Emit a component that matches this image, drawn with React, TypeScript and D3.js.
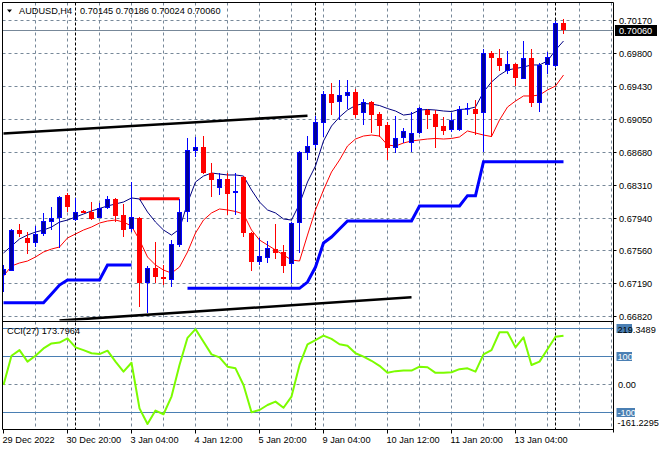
import React from "react";
import * as d3 from "d3";

// ---------- data (AUDUSD H4) ----------
const openP = [
  0.67291, 0.6734, 0.67801, 0.67707, 0.67651, 0.67756, 0.67895, 0.67933, 0.68198, 0.67914,
  0.68017, 0.68009, 0.6794, 0.68047, 0.68152, 0.67971, 0.67809, 0.6794, 0.67204, 0.67374,
  0.67273, 0.67235, 0.67631, 0.68009, 0.68699, 0.68744, 0.68449, 0.68273, 0.68378, 0.68217,
  0.68404, 0.6777, 0.67443, 0.67481, 0.67583, 0.67556, 0.67413, 0.67877, 0.68676, 0.68763,
  0.69015, 0.69341, 0.69254, 0.69318, 0.69363, 0.69128, 0.69247, 0.6911, 0.6899, 0.68726,
  0.68839, 0.68789, 0.68902, 0.69159, 0.69114, 0.68978, 0.68933, 0.68933, 0.69167, 0.69171,
  0.69122, 0.69808, 0.69744, 0.69604, 0.69677, 0.69514, 0.69748, 0.69242, 0.69669, 0.69657,
  0.70145,
];
const highP = [
  0.67405, 0.67812, 0.67869, 0.67782, 0.67846, 0.67997, 0.68065, 0.68186, 0.68217, 0.6816,
  0.68028, 0.68122, 0.68104, 0.68186, 0.6816, 0.68096, 0.68341, 0.67948, 0.67394, 0.67669,
  0.67405, 0.67688, 0.68152, 0.68846, 0.68857, 0.68865, 0.68555, 0.68449, 0.68443, 0.68443,
  0.68412, 0.67778, 0.67707, 0.6768, 0.67869, 0.67631, 0.67891, 0.68696, 0.68865, 0.69092,
  0.69378, 0.69468, 0.69499, 0.69499, 0.69394, 0.69281, 0.69265, 0.6914, 0.69027, 0.69092,
  0.68959, 0.6914, 0.69193, 0.69167, 0.69159, 0.69084, 0.69122, 0.69205, 0.69235, 0.69273,
  0.69846, 0.69827, 0.69846, 0.69827, 0.69688, 0.69944, 0.69846, 0.69688, 0.6982, 0.7017,
  0.70186,
];
const lowP = [
  0.67099, 0.67337, 0.67719, 0.6753, 0.67612, 0.67733, 0.67801, 0.67594, 0.68009, 0.67905,
  0.67988, 0.67914, 0.67933, 0.68036, 0.67895, 0.67719, 0.67782, 0.66927, 0.66865, 0.67204,
  0.67178, 0.67159, 0.67605, 0.67895, 0.68627, 0.68435, 0.68178, 0.68198, 0.67971, 0.67971,
  0.67719, 0.6734, 0.67405, 0.67431, 0.6747, 0.67311, 0.67204, 0.67538, 0.68593, 0.68726,
  0.68857, 0.69102, 0.69046, 0.69167, 0.69065, 0.6899, 0.68902, 0.68857, 0.68593, 0.6867,
  0.68783, 0.68688, 0.68888, 0.68941, 0.68726, 0.68876, 0.68914, 0.68922, 0.69102, 0.68876,
  0.68688, 0.68857, 0.69604, 0.69566, 0.69431, 0.6951, 0.6919, 0.6914, 0.69566, 0.6965,
  0.70024,
];
const closeP = [
  0.67359, 0.67801, 0.67756, 0.67651, 0.67756, 0.67903, 0.67933, 0.68178, 0.68065, 0.68009,
  0.67997, 0.67926, 0.68047, 0.68152, 0.67963, 0.67801, 0.67944, 0.67204, 0.67367, 0.67273,
  0.6725, 0.67639, 0.68002, 0.68707, 0.68744, 0.68443, 0.68367, 0.68378, 0.68209, 0.68243,
  0.67764, 0.67443, 0.67507, 0.67594, 0.67544, 0.67394, 0.67877, 0.68684, 0.68756, 0.69027,
  0.69341, 0.69242, 0.69329, 0.69363, 0.69102, 0.69247, 0.69102, 0.68978, 0.68726, 0.68846,
  0.68922, 0.68902, 0.69178, 0.69102, 0.6897, 0.68925, 0.69046, 0.69167, 0.69185, 0.69114,
  0.69808, 0.69744, 0.69657, 0.6968, 0.69518, 0.69748, 0.69242, 0.69665, 0.69755, 0.70145,
  0.7006,
];
const maFast = [
  0.67541, 0.6762, 0.67699, 0.67744, 0.67778, 0.67801, 0.67835, 0.67891, 0.67914, 0.67948,
  0.67982, 0.68017, 0.68045, 0.68073, 0.68096, 0.68118, 0.68164, 0.68152, 0.68005, 0.67891,
  0.67801, 0.67744, 0.67812, 0.68107, 0.68345, 0.68412, 0.68446, 0.68435, 0.68424, 0.68424,
  0.68412, 0.68254, 0.68118, 0.68028, 0.67994, 0.67926, 0.67914, 0.68096, 0.68345, 0.68526,
  0.68809, 0.68978, 0.6908, 0.69159, 0.6921, 0.69233, 0.69227, 0.6921, 0.69176, 0.69148,
  0.69102, 0.69114, 0.69159, 0.69165, 0.69159, 0.69148, 0.69142, 0.69165, 0.69171, 0.69193,
  0.69363, 0.69476, 0.69555, 0.69612, 0.69629, 0.69646, 0.69669, 0.69669, 0.69714, 0.69838,
  0.6994,
];
const maSlow = [
  0.6728, 0.67394, 0.67428, 0.6745, 0.67496, 0.67552, 0.67586, 0.67609, 0.67711, 0.67756,
  0.67801, 0.67835, 0.6788, 0.67903, 0.67914, 0.67891, 0.67846, 0.67688, 0.67496, 0.67405,
  0.67348, 0.67314, 0.67382, 0.67552, 0.67767, 0.67914, 0.67994, 0.68039, 0.68028, 0.68011,
  0.67982, 0.67801, 0.67688, 0.67631, 0.67575, 0.67518, 0.67462, 0.6745, 0.67744, 0.68028,
  0.68254, 0.68458, 0.68593, 0.68752, 0.68831, 0.68865, 0.68876, 0.68865, 0.68763, 0.68752,
  0.68786, 0.68809, 0.6882, 0.68831, 0.68837, 0.68831, 0.68837, 0.68854, 0.68922, 0.68899,
  0.68876, 0.68859, 0.69046, 0.69193, 0.69261, 0.69318, 0.69318, 0.69329, 0.69386, 0.69431,
  0.69555,
];
const stopUp: (number | null)[] = [
  0.66978, 0.66978, 0.66978, 0.66978, 0.66978, 0.66978, 0.67076, 0.67178, 0.67235, 0.67235,
  0.67235, 0.67235, 0.67235, 0.67405, 0.67405, 0.67405, 0.67405, null, null, null,
  null, null, null, 0.67141, 0.67141, 0.67141, 0.67141, 0.67141, 0.67141, 0.67141,
  0.67141, 0.67141, 0.67141, 0.67141, 0.67141, 0.67141, 0.67141, 0.67141, 0.67212, 0.67382,
  0.67654, 0.67722, 0.67812, 0.67903, 0.67903, 0.67903, 0.67903, 0.67903, 0.67903, 0.67903,
  0.67903, 0.67903, 0.68073, 0.68073, 0.68073, 0.68073, 0.68073, 0.68073, 0.6819, 0.6819,
  0.68574, 0.68574, 0.68574, 0.68574, 0.68574, 0.68574, 0.68574, 0.68574, 0.68574, 0.68574,
  0.68574,
];
const stopDown: (number | null)[] = [
  null, null, null, null, null, null, null, null, null, null,
  null, null, null, null, null, null, null, 0.68155, 0.68155, 0.68155,
  0.68155, 0.68155, 0.68155, null, null, null, null, null, null, null,
  null, null, null, null, null, null, null, null, null, null,
  null, null, null, null, null, null, null, null, null, null,
  null, null, null, null, null, null, null, null, null, null,
  null, null, null, null, null, null, null, null, null, null,
  null,
];
const cciVals = [
  -2.5, 102, 122, 81, 102, 128, 146, 149, 164, 132,
  122, 111, 108, 120, 81, 45, 77, -86, -142, -94,
  -107, -44, 69, 166, 197, 152, 107, 96, 63, 57,
  -2.5, -100, -92, -74, -62, -84, -44, 69, 143, 158,
  174, 162, 143, 138, 111, 99, 84, 66, 41, 47,
  49, 49, 63, 61, 41, 41, 43, 54, 57, 45,
  107, 122, 186, 186, 132, 168, 69, 81, 125, 170,
  173.7964,
];
const trendStartBar = [0, 7];
const trendStartPrice = [0.68893, 0.66776];
const trendEndBar = [38, 51];
const trendEndPrice = [0.69095, 0.6704];
const separatorBars = [9, 39, 69];
const timeLabelBars = [0, 8, 16, 24, 32, 40, 48, 56, 64];
const timeLabels = [
  "29 Dec 2022", "30 Dec 20:00", "3 Jan 04:00", "4 Jan 12:00", "5 Jan 20:00",
  "9 Jan 04:00", "10 Jan 12:00", "11 Jan 20:00", "13 Jan 04:00",
];
const priceTickLabels = [
  "0.70170", "0.69800", "0.69430", "0.69050", "0.68680",
  "0.68310", "0.67940", "0.67560", "0.67190", "0.66820",
];
const cciLevels = [200, 100, -100];
const cciMax = 219.3489;
const cciMin = -161.2295;
const lastPrice = 0.7006;
const symbol = "AUDUSD,H4";
const ohlcText = "0.70145 0.70186 0.70024 0.70060";
const cciName = "CCI(27) 173.7964";

// ---------- component ----------
export default function App() {
  const L = 2.5, R = 613.5, T = 2.5, MB = 320.5, CT = 321.5, CB = 429.5;
  const font = "'Liberation Sans', Arial, sans-serif";
  const fs = 9.2;
  const blue = "#0000ff", navyFill = "#000099", red = "#ff0000";
  const gridC = "#778899";
  const levelC = "#4a7fb3";

  const n = openP.length;
  const x = d3.scaleLinear().domain([0, n - 1]).range([3.5, 3.5 + 8 * (n - 1)]);
  const yTopVal = +priceTickLabels[0];
  const yBotVal = +priceTickLabels[priceTickLabels.length - 1];
  const y = d3.scaleLinear().domain([yBotVal, yTopVal]).range([316.7, 20.7]);
  const yc = d3.scaleLinear().domain([cciMin, cciMax]).range([429.4, 322.9]);
  const snap = (v: number) => Math.floor(v) + 0.5;

  const tickPrices = priceTickLabels.map(
    (_, k) => yTopVal - (k * (yTopVal - yBotVal)) / (priceTickLabels.length - 1)
  );
  const vGrid: number[] = [];
  for (let b = 4; x(b) < R - 1; b += 4) vGrid.push(b);

  const lineP = d3
    .line<number | null>()
    .defined((d) => d != null)
    .x((_, i) => x(i))
    .y((d) => y(d as number));
  const lineC = d3
    .line<number>()
    .x((_, i) => x(i))
    .y((d) => yc(d));

  return (
    <div style={{ position: "fixed", left: 0, top: 0, width: 660, height: 450, background: "#fff" }}>
      <svg width={660} height={450} style={{ display: "block" }} fontFamily={font} fontSize={fs}>
        <defs>
          <clipPath id="mainClip">
            <rect x={L + 0.5} y={T + 0.5} width={R - L - 1} height={MB - T - 0.5} />
          </clipPath>
          <clipPath id="cciClip">
            <rect x={L + 0.5} y={CT + 0.5} width={R - L - 1} height={CB - CT - 1} />
          </clipPath>
        </defs>
        <rect x={0} y={0} width={660} height={450} fill="#fff" />

        {/* main grid */}
        <g stroke={gridC} strokeWidth={1} strokeDasharray="3,3" fill="none">
          {tickPrices.map((p, k) => (
            <line key={"h" + k} x1={L} x2={R} y1={snap(y(p))} y2={snap(y(p))} />
          ))}
          {vGrid.map((b) => (
            <line key={"v" + b} x1={x(b)} x2={x(b)} y1={T} y2={MB} />
          ))}
          {vGrid.map((b) => (
            <line key={"cv" + b} x1={x(b)} x2={x(b)} y1={CT} y2={CB} />
          ))}
          <line x1={L} x2={R} y1={snap(yc(0))} y2={snap(yc(0))} />
        </g>

        {/* current price line */}
        <line x1={L} x2={R} y1={snap(y(lastPrice))} y2={snap(y(lastPrice))} stroke={gridC} strokeWidth={1} />

        {/* separators */}
        <g stroke="#000" strokeWidth={1} strokeDasharray="3,2">
          {separatorBars.map((b) => (
            <line key={"s" + b} x1={x(b)} x2={x(b)} y1={T} y2={CB} />
          ))}
        </g>

        <g clipPath="url(#mainClip)">
          {/* trend lines */}
          {trendStartBar.map((b, k) => (
            <line
              key={"t" + k}
              x1={x(b)}
              y1={y(trendStartPrice[k])}
              x2={x(trendEndBar[k])}
              y2={y(trendEndPrice[k])}
              stroke="#000"
              strokeWidth={2.6}
            />
          ))}
          {/* stop line */}
          <path d={lineP(stopUp) || ""} fill="none" stroke={blue} strokeWidth={3} />
          <path d={lineP(stopDown) || ""} fill="none" stroke={red} strokeWidth={3} />
          {/* moving averages */}
          <path d={lineP(maSlow) || ""} fill="none" stroke={red} strokeWidth={1} />
          <path d={lineP(maFast) || ""} fill="none" stroke="#000080" strokeWidth={1} />
          {/* candles */}
          {openP.map((o, i) => {
            const c = closeP[i];
            const up = c >= o;
            const cx = x(i);
            const yt = Math.round(y(Math.max(o, c)));
            const yb = Math.round(y(Math.min(o, c)));
            const h = Math.max(yb - yt, 1);
            return (
              <g key={"c" + i}>
                <line
                  x1={cx}
                  x2={cx}
                  y1={Math.round(y(highP[i]))}
                  y2={Math.round(y(lowP[i]))}
                  stroke={up ? blue : red}
                  strokeWidth={1}
                />
                {up ? (
                  <rect x={cx - 2} y={yt + 0.5} width={4} height={Math.max(h - 1, 0.5)} fill={navyFill} stroke={blue} strokeWidth={1} />
                ) : (
                  <rect x={cx - 2.5} y={yt} width={5} height={h} fill={red} />
                )}
              </g>
            );
          })}
        </g>

        {/* CCI window */}
        <g stroke={levelC} strokeWidth={1}>
          {cciLevels.map((lv) => (
            <line key={"lv" + lv} x1={L} x2={R} y1={snap(yc(lv))} y2={snap(yc(lv))} />
          ))}
        </g>
        <g clipPath="url(#cciClip)">
          <path d={lineC(cciVals) || ""} fill="none" stroke="#7cfc00" strokeWidth={2} strokeLinejoin="round" />
        </g>

        {/* frames */}
        <g stroke="#000" strokeWidth={1} fill="none">
          <line x1={L} x2={R} y1={T} y2={T} />
          <line x1={L} x2={L} y1={T} y2={CB} />
          <line x1={R} x2={R} y1={T} y2={CB + 3} />
          <line x1={L} x2={R} y1={CT} y2={CT} />
          <line x1={L} x2={R} y1={CB} y2={CB} />
          {tickPrices.map((p, k) => (
            <line key={"pt" + k} x1={R} x2={R + 3} y1={snap(y(p))} y2={snap(y(p))} />
          ))}
          {timeLabelBars.map((b) => (
            <line key={"tt" + b} x1={x(b)} x2={x(b)} y1={CB} y2={CB + 4} />
          ))}
        </g>

        {/* title */}
        <path d="M7,9.5 L12,9.5 L9.5,12.5 Z" fill="#000" />
        <text x={19} y={14} fill="#000">{symbol}</text>
        <text x={80} y={14} fill="#000">{ohlcText}</text>
        <text x={7} y={334} fill="#000">{cciName}</text>

        {/* price axis labels */}
        {tickPrices.map((p, k) => (
          <text key={"pl" + k} x={619} y={snap(y(p)) + 3.5} fill="#000">
            {priceTickLabels[k]}
          </text>
        ))}
        <rect x={615} y={snap(y(lastPrice)) - 5.5} width={42} height={11} fill="#000" />
        <text x={619} y={snap(y(lastPrice)) + 3.5} fill="#fff">
          {lastPrice.toFixed(5)}
        </text>

        {/* CCI axis labels */}
        {cciLevels.map((lv) => {
          const yy = snap(yc(lv));
          const w = lv < 0 ? 18.5 : 15.5;
          return (
            <g key={"cl" + lv}>
              <rect x={616.5} y={yy - 4.5} width={w} height={9} fill={levelC} />
              {lv !== 200 && (
                <text x={617.5} y={yy + 3.5} fill="#fff">
                  {String(lv)}
                </text>
              )}
            </g>
          );
        })}
        <text x={617.5} y={333} fill="#000">{cciMax.toFixed(4)}</text>
        <text x={618} y={snap(yc(0)) + 3.5} fill="#000">0.00</text>
        <text x={617.5} y={425.5} fill="#000">{cciMin.toFixed(4)}</text>

        {/* time labels */}
        {timeLabelBars.map((b, k) => (
          <text key={"tl" + k} x={x(b) - 1} y={442.5} fill="#000">
            {timeLabels[k]}
          </text>
        ))}
      </svg>
    </div>
  );
}
